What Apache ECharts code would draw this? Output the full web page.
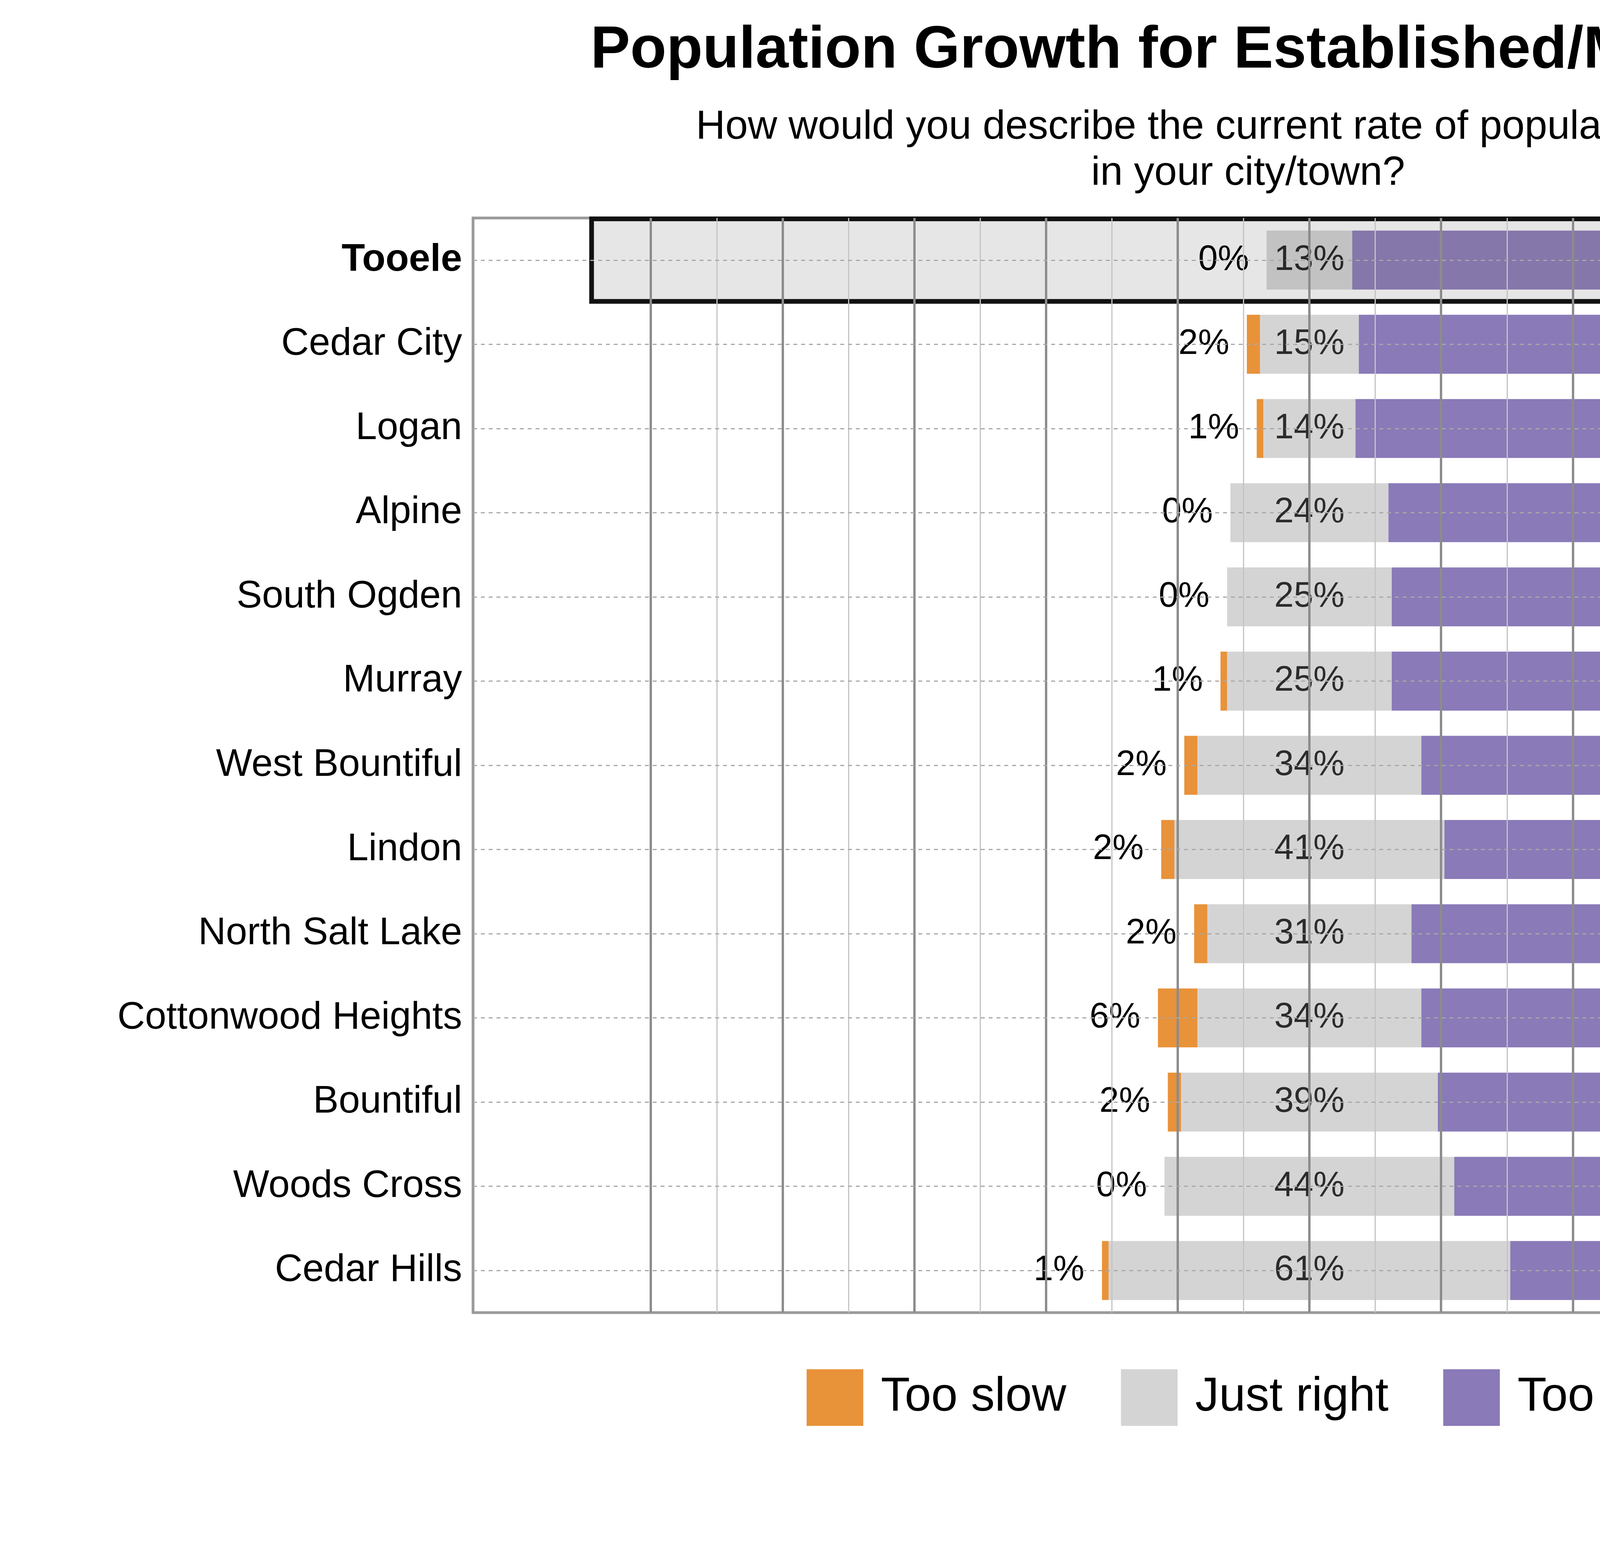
<!DOCTYPE html>
<html><head><meta charset="utf-8">
<script src="https://cdn.jsdelivr.net/npm/echarts@6/dist/echarts.min.js"></script>
<style>html,body{margin:0;padding:0;background:#fff;overflow:hidden}#c{width:5700px;height:3960px}</style>
</head><body><div id="c"></div>
<script>
var cities = ['Tooele', 'Cedar City', 'Logan', 'Alpine', 'South Ogden', 'Murray', 'West Bountiful',
    'Lindon', 'North Salt Lake', 'Cottonwood Heights', 'Bountiful', 'Woods Cross', 'Cedar Hills'];
var tooSlow = [0, 2, 1, 0, 0, 1, 2, 2, 2, 6, 2, 0, 1];
var justRight = [13, 15, 14, 24, 25, 25, 34, 41, 31, 34, 39, 44, 61];
var tooFast = [81, 80, 73, 67, 62, 61, 54, 53, 52, 50, 46, 45, 27];
var noOpinion = [6, 4, 12, 9, 12, 13, 9, 5, 15, 10, 13, 11, 11];

var cOrange = '#e8923a', cGray = '#d4d4d4', cPurple = '#8a7ab8';
var font = 'Arial, "Liberation Sans", sans-serif';

// grid lines
var vLines = [];
for (var v = -100; v <= 100; v += 10) {
    vLines.push({ xAxis: v, lineStyle: { color: v % 20 === 0 ? '#8c8c8c' : '#c4c4c4', width: v % 20 === 0 ? 6 : 3, type: 'solid' } });
}
var hLines = cities.map(function (c) { return { yAxis: c }; });

var chart = echarts.init(document.getElementById('c'));
chart.setOption({
    backgroundColor: '#fff',
    animation: false,
    title: [
        { text: 'Population Growth for Established/Mid-sized Cities', left: 3352, top: 50, textAlign: 'center',
          textStyle: { fontFamily: font, fontWeight: 'bold', fontSize: 152, color: '#000' } },
        { text: 'How would you describe the current rate of population growth\nin your city/town?', left: 3190, top: 262, textAlign: 'center',
          textStyle: { fontFamily: font, fontWeight: 'normal', fontSize: 104, lineHeight: 118, color: '#000' } }
    ],
    graphic: [
        { type: 'text', left: 5190, top: 300, style: { text: '% with', fontFamily: font, fontSize: 60, fill: '#000' } },
        { type: 'text', left: 5190, top: 410, style: { text: 'no opinion', fontFamily: font, fontSize: 60, fill: '#000' } }
    ],
    legend: {
        data: ['Too slow', 'Just right', 'Too fast'],
        icon: 'rect',
        left: 2060, top: 3500,
        itemWidth: 145, itemHeight: 145, itemGap: 140,
        textStyle: { fontFamily: font, fontSize: 122, color: '#000', padding: [0, 0, 0, 40] }
    },
    grid: { left: 1211, right: 190, top: 558, bottom: 600, show: true, borderColor: '#9a9a9a', borderWidth: 7 },
    xAxis: { type: 'value', min: -127, max: 128, show: false, splitLine: { show: false } },
    yAxis: {
        type: 'category', data: cities, inverse: true,
        axisLine: { show: false }, axisTick: { show: false }, splitLine: { show: false },
        axisLabel: {
            margin: 28, fontFamily: font, fontSize: 98, color: '#000',
            formatter: function (v) { return v === 'Tooele' ? '{b|' + v + '}' : v; },
            rich: { b: { fontFamily: font, fontSize: 98, fontWeight: 'bold', color: '#000' } }
        }
    },
    series: [
        {
            type: 'custom', name: 'highlight', z: 0, silent: true,
            data: [[-109, 111.5, 'Tooele']],
            renderItem: function (params, api) {
                var p0 = api.coord([api.value(0), api.value(2)]);
                var p1 = api.coord([api.value(1), api.value(2)]);
                var h = api.size([0, 1])[1] * 0.98;
                return { type: 'rect', shape: { x: p0[0], y: p0[1] - h / 2, width: p1[0] - p0[0], height: h },
                    style: { fill: '#e6e6e6', stroke: '#111', lineWidth: 12 } };
            }
        },
        {
            type: 'scatter', name: 'grid', z: 1, silent: true, symbolSize: 0, data: [],
            markLine: {
                silent: true, symbol: 'none', label: { show: false },
                lineStyle: { color: '#a8a8a8', width: 3, type: [10, 10] },
                data: vLines.concat(hLines)
            }
        },
        {
            type: 'bar', name: 'Just right', stack: 's', z: 2, barWidth: '70%',
            itemStyle: { color: cGray },
            data: justRight.map(function (v, i) { return { value: -v / 2, itemStyle: { color: i === 0 ? '#c2c2c2' : cGray } }; })
        },
        {
            type: 'bar', name: 'Too slow', stack: 's', z: 2,
            itemStyle: { color: cOrange },
            label: { show: true, position: 'left', distance: 45, fontFamily: font, fontSize: 90, color: '#000',
                formatter: function (p) { return tooSlow[p.dataIndex] + '%'; } },
            data: tooSlow.map(function (v) { return -v; })
        },
        {
            type: 'bar', name: 'Just right', stack: 's', z: 2,
            itemStyle: { color: cGray },
            data: justRight.map(function (v, i) { return { value: v / 2, itemStyle: { color: i === 0 ? '#c2c2c2' : cGray } }; })
        },
        {
            type: 'bar', name: 'Too fast', stack: 's', z: 2,
            itemStyle: { color: cPurple },
            label: { show: true, position: 'right', distance: 45, fontFamily: font, fontSize: 90, color: '#000',
                formatter: function (p) { return tooFast[p.dataIndex] + '%'; } },
            data: tooFast.map(function (v, i) { return { value: v, itemStyle: { color: i === 0 ? '#8677ab' : cPurple } }; })
        },
        {
            type: 'scatter', name: 'jrLabels', z: 3, symbolSize: 0, silent: true,
            label: { show: true, position: 'inside', fontFamily: font, fontSize: 90, color: '#000',
                formatter: function (p) { return justRight[p.dataIndex] + '%'; } },
            data: cities.map(function (c) { return [0, c]; })
        },
        {
            type: 'scatter', name: 'noOpLabels', z: 3, symbolSize: 0, silent: true,
            label: { show: true, position: 'inside', fontFamily: font, fontSize: 74, color: '#000',
                formatter: function (p) { return noOpinion[p.dataIndex] + '%'; } },
            data: cities.map(function (c) { return [121, c]; })
        }
    ]
});
</script>
</body></html>
